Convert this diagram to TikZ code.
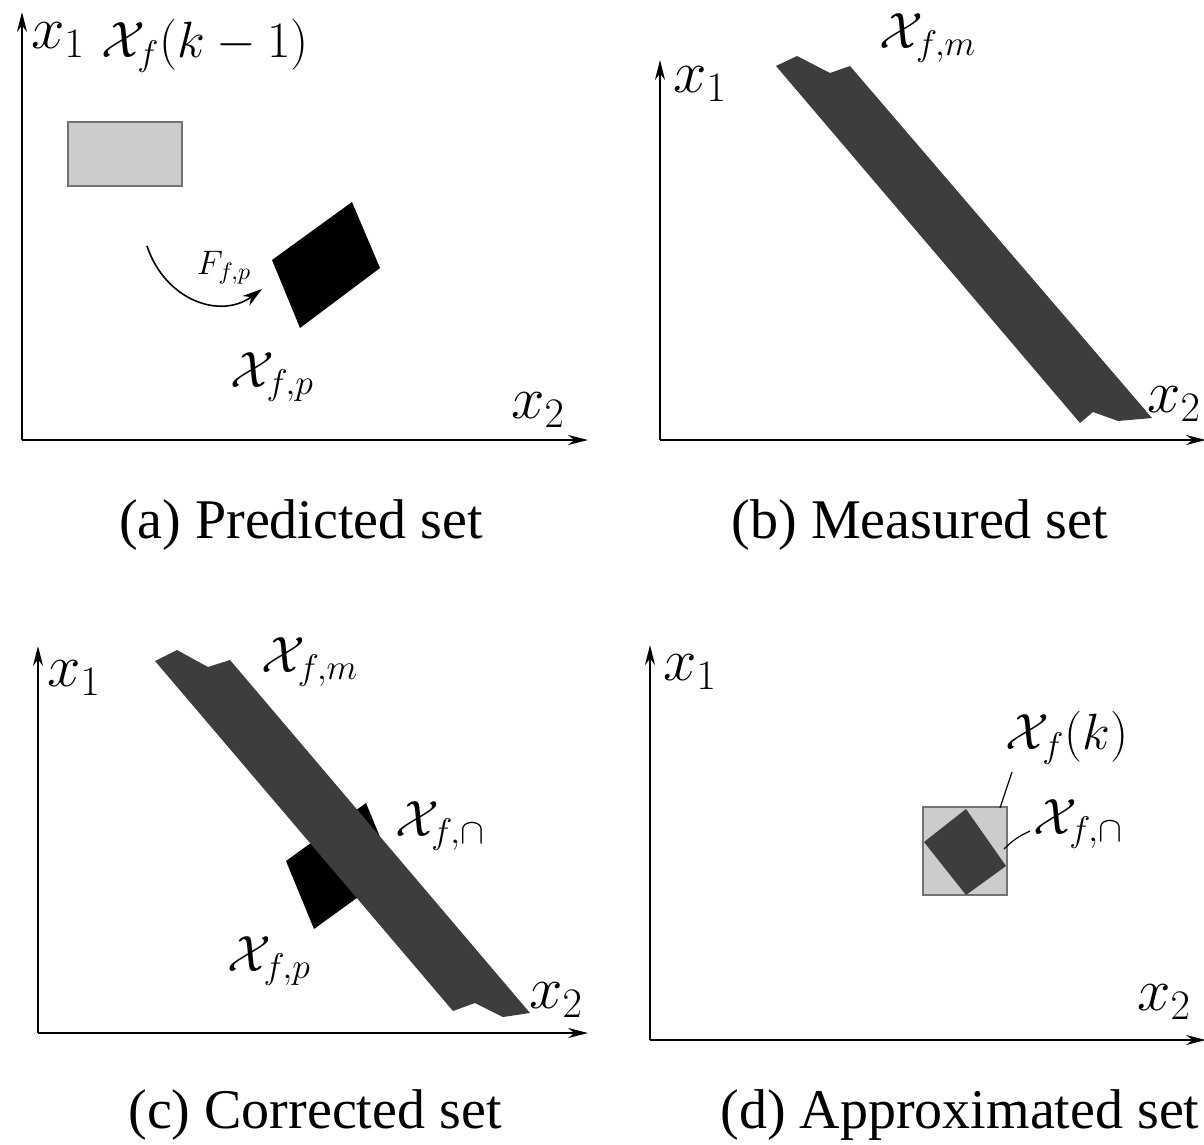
\RequirePackage{fix-cm}
\documentclass[tikz,border=0pt]{standalone}
\usepackage[no-math]{fontspec}
\newfontfamily\capfont{Liberation Serif}
\usetikzlibrary{arrows.meta}

\begin{document}
\begin{tikzpicture}[x=0.5pt,y=-0.5pt,
  axis/.style={line width=1pt,-{Stealth[length=10pt,width=5pt]}},
  axlbl/.style={font=\fontsize{30}{36}\selectfont},
  lbl/.style={font=\fontsize{25.5}{30}\selectfont},
  smalllbl/.style={font=\fontsize{17}{20}\selectfont},
  captxt/.style={font=\capfont\fontsize{28}{34}\selectfont},
  darkset/.style={fill=black!76},
  lightset/.style={fill=black!20,draw=black!55,line width=0.8pt}]
\useasboundingbox (0,0) rectangle (1204,1145);

\coordinate (ao) at (22,440);
\coordinate (ay) at (22,12);
\coordinate (ax) at (588,440);
\draw[axis] (ao) -- (ay);
\draw[axis] (ao) -- (ax);
\node[axlbl] (a-x1) at (58,40) {$x_1$};
\node[lbl] (a-prev) at (205,46) {$\mathcal{X}_f(k-1)$};
\draw[lightset] (68,122) rectangle (182,186);
\fill (272,260) -- (352,202) -- (380,268) -- (300,328) -- cycle;
\coordinate (a-from) at (147,246);
\coordinate (a-to) at (262,289);
\draw[line width=0.8pt,-{Stealth[length=10pt,width=6pt]}] (a-from) .. controls (165,300) and (220,320) .. (a-to);
\node[smalllbl] (a-map) at (224,268) {$F_{f,p}$};
\node[lbl] (a-pred) at (272,377) {$\mathcal{X}_{f,p}$};
\node[axlbl] (a-x2) at (538,410) {$x_2$};
\node[captxt] (a-cap) at (301,525) {(a) Predicted set};

\coordinate (bo) at (660,440);
\coordinate (by) at (660,60);
\coordinate (bx) at (1206,440);
\draw[axis] (bo) -- (by);
\draw[axis] (bo) -- (bx);
\fill[darkset] (776,66) -- (797,56) -- (830,73) -- (850,66) -- (1152,418) -- (1118,421) -- (1093,412) -- (1080,423) -- cycle;
\node[axlbl] (b-x1) at (700,84) {$x_1$};
\node[lbl,inner sep=0pt] (b-meas) at (928,38) {$\mathcal{X}_{f,m}$};
\node[axlbl] (b-x2) at (1174,404) {$x_2$};
\node[captxt] (b-cap) at (920,525) {(b) Measured set};

\coordinate (co) at (38,1033);
\coordinate (cy) at (38,646);
\coordinate (cx) at (588,1033);
\draw[axis] (co) -- (cy);
\draw[axis] (co) -- (cx);
\fill (286,861) -- (366,803) -- (394,871) -- (314,929) -- cycle;
\fill[darkset] (155,661) -- (177,650) -- (208,667) -- (230,660) -- (530,1013) -- (503,1017) -- (475,1003) -- (453,1011) -- cycle;
\node[axlbl] (c-x1) at (74,678) {$x_1$};
\node[lbl] (c-meas) at (310,662) {$\mathcal{X}_{f,m}$};
\node[lbl] (c-cap) at (440,826) {$\mathcal{X}_{f,\cap}$};
\node[lbl] (c-pred) at (269,961) {$\mathcal{X}_{f,p}$};
\node[axlbl] (c-x2) at (556,1000) {$x_2$};
\node[captxt] (c-text) at (315,1115) {(c) Corrected set};

\coordinate (do) at (650,1040);
\coordinate (dy) at (650,645);
\coordinate (dx) at (1206,1040);
\draw[axis] (do) -- (dy);
\draw[axis] (do) -- (dx);
\draw[lightset] (923,807) rectangle (1007,895);
\fill[darkset] (924,842) -- (966,809) -- (1006,866) -- (966,895) -- cycle;
\node[axlbl] (d-x1) at (690,672) {$x_1$};
\node[lbl] (d-next) at (1067,738) {$\mathcal{X}_f(k)$};
\node[lbl] (d-cap) at (1078,824) {$\mathcal{X}_{f,\cap}$};
\coordinate (d-box) at (1000,808);
\coordinate (d-boxend) at (1012,772);
\coordinate (d-quad) at (1004,849);
\coordinate (d-quadend) at (1030,831);
\draw[line width=0.6pt] (d-box) -- (d-boxend);
\draw[line width=0.6pt] (d-quad) to[bend left=10] (d-quadend);
\node[axlbl] (d-x2) at (1164,1002) {$x_2$};
\node[captxt] (d-text) at (960,1115) {(d) Approximated set};
\end{tikzpicture}
\end{document}
